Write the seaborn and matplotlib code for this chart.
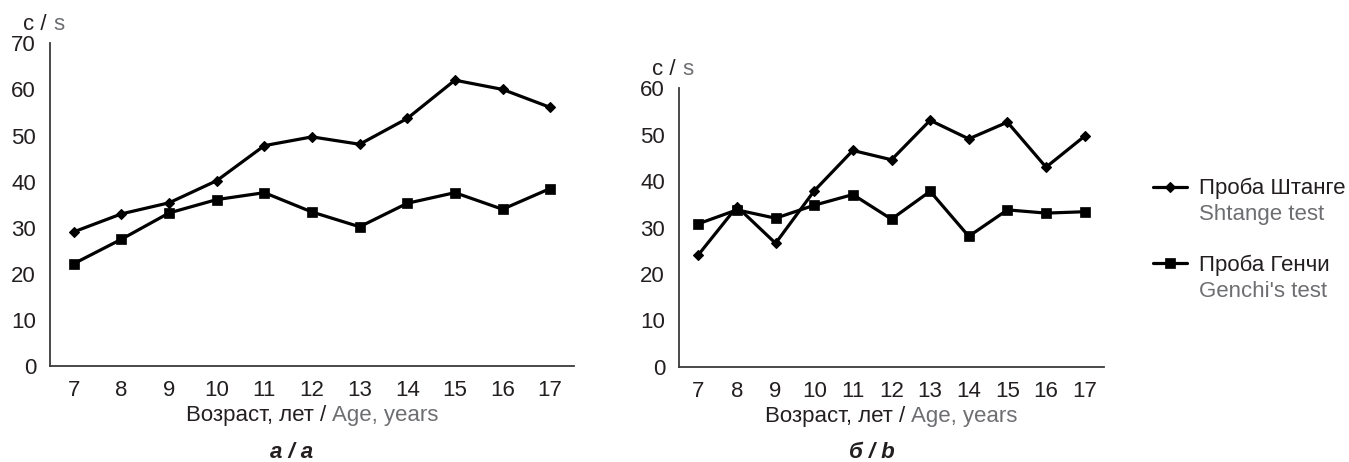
import numpy as np
import pandas as pd
import matplotlib
matplotlib.use('Agg')
import matplotlib.pyplot as plt
import seaborn as sns

# ---- data ----
ages = [7, 8, 9, 10, 11, 12, 13, 14, 15, 16, 17]

# panel a
shtange_a = [29.1, 33.0, 35.4, 40.2, 47.8, 49.7, 48.1, 53.7, 62.0, 60.0, 56.1]
genchi_a = [22.2, 27.5, 33.2, 36.1, 37.6, 33.4, 30.2, 35.3, 37.6, 34.0, 38.5]

# panel b
shtange_b = [24.1, 34.5, 26.6, 37.9, 46.6, 44.6, 53.1, 49.1, 52.7, 43.0, 49.7]
genchi_b = [30.8, 33.8, 32.0, 34.8, 37.1, 31.8, 37.8, 28.1, 33.8, 33.1, 33.4]

legend_ru = ['Проба Штанге', 'Проба Генчи']
legend_en = ['Shtange test', "Genchi's test"]
xlabel_ru = 'Возраст, лет / '
xlabel_en = 'Age, years'
captions = ['а / a', 'б / b']

DARK = '#231f20'
GRAY = '#6d6e71'
SPINE = '#3a3a3a'

sns.set_style('white')
plt.rcParams['font.family'] = ['Liberation Sans', 'DejaVu Sans']
plt.rcParams['text.color'] = DARK

W, H = 1349, 462
fig = plt.figure(figsize=(W / 100, H / 100), dpi=100)


def px_axes(x0, x1, ytop, ybot):
    return fig.add_axes([x0 / W, 1 - ybot / H, (x1 - x0) / W, (ybot - ytop) / H])


ax_a = px_axes(50, 574, 43.3, 366)
ax_b = px_axes(679, 1104, 88.3, 366.7)

panels = [
    (ax_a, shtange_a, genchi_a, 70),
    (ax_b, shtange_b, genchi_b, 60),
]

for ax, sht, gen, ymax in panels:
    df = pd.DataFrame({'age': ages, 'shtange': sht, 'genchi': gen})
    sns.lineplot(data=df, x='age', y='shtange', ax=ax, color='black',
                 linewidth=2.3, marker='D', markersize=5.3, markeredgewidth=0.8,
                 markeredgecolor='black', label=legend_ru[0])
    sns.lineplot(data=df, x='age', y='genchi', ax=ax, color='black',
                 linewidth=2.3, marker='s', markersize=7, markeredgewidth=0.5,
                 markeredgecolor='black', label=legend_ru[1])
    ax.get_legend().remove()

    ax.set_xlim(6.5, 17.5)
    ax.set_ylim(0, ymax)
    ax.set_xticks(ages)
    ax.set_xticks(np.arange(6.5, 18.0, 1.0), minor=True)
    ax.set_yticks(np.arange(0, ymax + 1, 10))
    ax.tick_params(axis='x', which='major', length=0, pad=10,
                   labelsize=16, labelcolor=DARK)
    ax.tick_params(axis='x', which='minor', length=6, width=1.2,
                   color=SPINE, direction='out')
    ax.tick_params(axis='y', length=5, width=1.2, color=SPINE,
                   direction='out', pad=5, labelsize=16, labelcolor=DARK)
    sns.despine(ax=ax)
    for s in ['left', 'bottom']:
        ax.spines[s].set_color(SPINE)
        ax.spines[s].set_linewidth(1.3)
    ax.set_xlabel('')
    ax.set_ylabel('')

    # "c / s" unit label above the y axis
    ax.annotate('c / ', xy=(0, 1), xycoords='axes fraction',
                xytext=(3, 19), textcoords='offset pixels',
                ha='right', va='center', fontsize=16, color=DARK)
    ax.annotate('s', xy=(0, 1), xycoords='axes fraction',
                xytext=(3, 19), textcoords='offset pixels',
                ha='left', va='center', fontsize=16, color=GRAY)

    # x label, two colours
    lab = ax.annotate(xlabel_ru, xy=(0.5, 0), xycoords='axes fraction',
                      xytext=(0, -50), textcoords='offset pixels',
                      ha='center', va='center', fontsize=16, color=DARK)
    en = ax.annotate(xlabel_en, xy=(0.5, 0), xycoords='axes fraction',
                     xytext=(0, -50), textcoords='offset pixels',
                     ha='center', va='center', fontsize=16, color=GRAY)
    fig.canvas.draw()
    ru_w = lab.get_window_extent().width
    en_w = en.get_window_extent().width
    tot = ru_w + en_w
    lab.set_position((-tot / 2 + ru_w / 2, -50))
    en.set_position((-tot / 2 + ru_w + en_w / 2, -50))

# panel captions
fig.text(292 / W, 1 - 452 / H, captions[0], ha='center', va='center',
         fontsize=16, fontweight='bold', style='italic', color=DARK)
fig.text(872 / W, 1 - 452 / H, captions[1], ha='center', va='center',
         fontsize=16, fontweight='bold', style='italic', color=DARK)

# legend: Russian labels via legend, English lines below each
handles, labels = ax_b.get_legend_handles_labels()
leg = fig.legend(handles, labels, loc='upper left',
                 bbox_to_anchor=(1153 / W, 1 - 178 / H),
                 frameon=False, fontsize=16, borderpad=0, borderaxespad=0,
                 handlelength=1.55, handletextpad=0.5, labelspacing=2.5)
fig.canvas.draw()
for t, en_text in zip(leg.get_texts(), legend_en):
    t.set_color(DARK)
    bb = t.get_window_extent()
    fig.text(bb.x0 / W, (bb.y0 - 5) / H, en_text, ha='left', va='top',
             fontsize=16, color=GRAY)

fig.savefig('out.png', dpi=100)
